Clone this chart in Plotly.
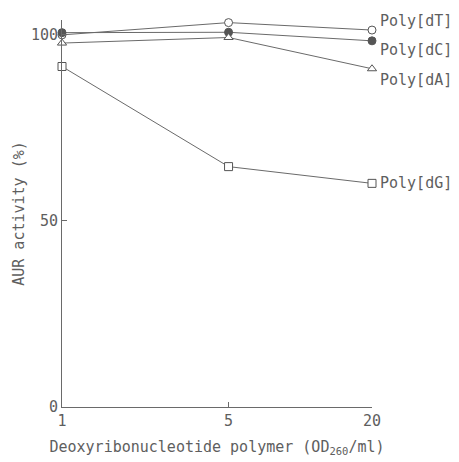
import math
import plotly.graph_objects as go

x_conc = [1, 5, 20]
series_names = ["Poly[dT]", "Poly[dC]", "Poly[dA]", "Poly[dG]"]
poly_dT = [100.0, 103.3, 101.3]
poly_dC = [100.6, 100.7, 98.4]
poly_dA = [97.8, 99.3, 90.9]
poly_dG = [91.5, 64.6, 60.1]
y_ticks = [0, 50, 100]
x_ticks = [1, 5, 20]

values = [poly_dT, poly_dC, poly_dA, poly_dG]
symbols = ["circle", "circle", "triangle-up", "square"]
fills = ["white", "#555555", "white", "white"]
label_shift = [9, -9, -11, 0]

line_col = "#6a6a6a"
text_col = "#5e5e5e"
font_fam = "DejaVu Sans Mono, Liberation Mono, monospace"

fig = go.Figure()
for i, (name, vals) in enumerate(zip(series_names, values)):
    fig.add_trace(go.Scatter(
        x=x_conc, y=vals, mode="lines+markers", name=name,
        line=dict(color=line_col, width=1),
        marker=dict(symbol=symbols[i], size=8, color=fills[i],
                    line=dict(color="#555555", width=1)),
        showlegend=False, cliponaxis=False,
    ))
    fig.add_annotation(x=math.log10(x_conc[-1]), y=vals[-1], xref="x", yref="y",
                       text=name, showarrow=False, xanchor="left",
                       xshift=6, yshift=label_shift[i],
                       font=dict(family=font_fam, size=15, color=text_col))

fig.update_layout(
    width=451, height=454,
    margin=dict(l=54, r=87, t=12, b=55),
    plot_bgcolor="white", paper_bgcolor="white",
    font=dict(family=font_fam, size=15, color=text_col),
    xaxis=dict(type="log", range=[0, math.log10(20)], tickvals=x_ticks,
               ticktext=[str(v) for v in x_ticks], automargin=False,
               showgrid=False, zeroline=False, showline=True,
               linecolor=line_col, linewidth=1, ticks="inside",
               ticklen=5, tickcolor=line_col,
               title=dict(text="Deoxyribonucleotide polymer (OD<sub>260</sub>/ml)",
                          font=dict(size=15, color=text_col), standoff=12)),
    yaxis=dict(range=[0, 104], tickvals=y_ticks, automargin=False,
               showgrid=False, zeroline=False, showline=True,
               linecolor=line_col, linewidth=1, ticks="inside",
               ticklen=5, tickcolor=line_col,
               title=dict(text="AUR activity (%)",
                          font=dict(size=15, color=text_col), standoff=2)),
)

fig.write_html("out.html")
